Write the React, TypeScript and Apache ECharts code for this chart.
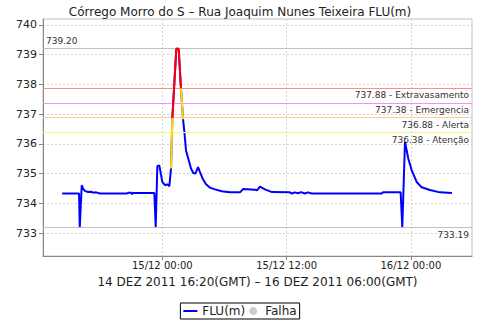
import React, { useEffect, useRef } from "react";
import * as echarts from "echarts";

// Hours relative to 15/12 00:00 (local time)
const times: number[] = [
  -9.67, -8.04, -7.97, -7.78, -7.63, -7.43, -7.17, -6.88, -6.67, -6.4, -6.01,
  -3.44, -3.26, -3.02, -2.92, -2.83, -0.77, -0.64, -0.48, -0.29, 0.0, 0.26,
  0.48, 0.68, 0.84, 0.97, 1.35, 1.58, 1.8, 2.0, 2.12, 2.29, 2.51, 2.77, 2.99,
  3.19, 3.45, 3.64, 3.9, 4.22, 4.6, 5.09, 5.73, 6.53, 7.5, 7.79, 8.95, 9.14,
  9.43, 9.91, 10.59, 12.32, 12.51, 12.8, 13.1, 13.39, 13.77, 14.06, 14.42,
  21.18, 21.31, 23.01, 23.17, 23.43, 23.75, 24.07, 24.56, 25.04, 25.84, 26.8,
  27.96,
];

const values: number[] = [
  734.33, 734.33, 733.19, 734.61, 734.48, 734.41, 734.38, 734.39, 734.36,
  734.37, 734.33, 734.33, 734.36, 734.36, 734.31, 734.35, 734.35, 733.19,
  735.25, 735.28, 734.72, 734.61, 734.64, 734.58, 735.17, 736.87, 739.2,
  739.2, 737.87, 736.83, 736.44, 735.78, 735.5, 735.17, 735.02, 735.0, 735.22,
  735.05, 734.83, 734.64, 734.53, 734.47, 734.41, 734.37, 734.37, 734.48,
  734.46, 734.44, 734.56, 734.47, 734.38, 734.37, 734.33, 734.37, 734.34,
  734.38, 734.33, 734.37, 734.33, 734.33, 734.37, 734.37, 733.2, 736.07,
  735.5, 735.12, 734.72, 734.54, 734.45, 734.37, 734.35,
];

// Index ranges of segments drawn in alert colours
const yellowSegments: [number, number][] = [
  [24, 25],
  [28, 29],
];
const redSegments: [number, number][] = [[25, 28]];

const xTickHours: number[] = [0, 12, 24];
const xTickLabels: string[] = ["15/12 00:00", "15/12 12:00", "16/12 00:00"];
const yTicks: number[] = [733, 734, 735, 736, 737, 738, 739, 740];

const thresholdValues: number[] = [737.88, 737.38, 736.88, 736.38];
const thresholdNames: string[] = ["Extravasamento", "Emergencia", "Alerta", "Atenção"];
const thresholdColors: string[] = ["#ff8c8c", "#ff88ff", "#ffc890", "#fff080"];
const maxValue = 739.2;
const minValue = 733.19;

const titleText = "Córrego Morro do S – Rua Joaquim Nunes Teixeira FLU(m)";
const xAxisName = "14 DEZ 2011 16:20(GMT) – 16 DEZ 2011 06:00(GMT)";

const FONT = "DejaVu Sans";

export default function App() {
  const ref = useRef<HTMLDivElement>(null);

  useEffect(() => {
    if (!ref.current) return;
    const chart = echarts.init(ref.current, undefined, { renderer: "svg" });

    const mainData = times.map((t, i) => [t, values[i]]);
    const segSeries = (segs: [number, number][], color: string, prefix: string) =>
      segs.map(([a, b], k) => ({
        type: "line",
        name: prefix + k,
        data: mainData.slice(a, b + 1),
        symbol: "none",
        lineStyle: { color, width: 2 },
        z: 5,
        silent: true,
      }));

    const markData: any[] = [
      {
        yAxis: maxValue,
        lineStyle: { color: "#c0c0c0" },
        label: { formatter: maxValue.toFixed(2), position: "insideStartTop" },
      },
      ...thresholdValues.map((v, i) => ({
        yAxis: v,
        lineStyle: { color: thresholdColors[i] },
        label: {
          formatter: v.toFixed(2) + " - " + thresholdNames[i],
          position: "insideEndBottom",
        },
      })),
      {
        yAxis: minValue,
        lineStyle: { color: "#c0c0c0" },
        label: { formatter: minValue.toFixed(2), position: "insideEndBottom" },
      },
    ];

    const option: any = {
      animation: false,
      backgroundColor: "#ffffff",
      textStyle: { fontFamily: FONT },
      title: {
        text: titleText,
        left: "center",
        top: 1,
        textStyle: { fontFamily: FONT, fontSize: 12, fontWeight: "normal", color: "#222" },
      },
      grid: {
        left: 43,
        top: 19,
        right: 8,
        bottom: 64,
        show: true,
        borderColor: "#c0c0c0",
        borderWidth: 1,
        backgroundColor: "#ffffff",
      },
      xAxis: {
        type: "value",
        min: -11.52,
        max: 29.9,
        name: xAxisName,
        nameLocation: "middle",
        nameGap: 20,
        nameTextStyle: { fontFamily: FONT, fontSize: 12, color: "#222" },
        axisLine: { show: true, onZero: false, lineStyle: { color: "#888" } },
        axisTick: { show: true, customValues: xTickHours, length: 4, lineStyle: { color: "#888" } },
        axisLabel: {
          customValues: xTickHours,
          formatter: (v: number) => xTickLabels[xTickHours.indexOf(v)] ?? "",
          fontFamily: FONT,
          fontSize: 10,
          color: "#222",
          margin: 4,
        },
        splitLine: { show: true, lineStyle: { type: [2, 2], color: "#d4d4d4" } },
      },
      yAxis: {
        type: "value",
        min: 732.23,
        max: 740.2,
        axisLine: { show: true, onZero: false, lineStyle: { color: "#888" } },
        axisTick: { show: true, customValues: yTicks, length: 4, lineStyle: { color: "#888" } },
        axisLabel: {
          customValues: yTicks,
          fontFamily: FONT,
          fontSize: 11,
          color: "#222",
          margin: 6,
        },
        splitLine: { show: true, lineStyle: { type: [2, 2], color: "#d4d4d4" } },
      },
      legend: {
        data: [
          { name: "FLU(m)", icon: "path://M0,0 L14,0 L14,2 L0,2 Z" },
          { name: "Falha", icon: "circle" },
        ],
        bottom: 1,
        left: "center",
        borderColor: "#000",
        borderWidth: 1,
        padding: [2, 3],
        itemGap: 4,
        itemWidth: 14,
        itemHeight: 8,
        selectedMode: false,
        textStyle: { fontFamily: FONT, fontSize: 12, color: "#222" },
      },
      series: [
        {
          type: "line",
          name: "FLU(m)",
          data: mainData,
          symbol: "none",
          lineStyle: { color: "#0000ff", width: 2 },
          itemStyle: { color: "#0000ff" },
          z: 4,
          markLine: {
            silent: true,
            symbol: ["none", "none"],
            animation: false,
            lineStyle: { type: "solid", width: 1 },
            label: {
              fontFamily: FONT,
              fontSize: 9,
              color: "#333",
              distance: 3,
            },
            data: markData,
          },
        },
        ...segSeries(yellowSegments, "#ffdd00", "yellow"),
        ...segSeries(redSegments, "#ff0000", "red"),
        {
          type: "scatter",
          name: "Falha",
          data: [],
          symbol: "circle",
          itemStyle: { color: "#c0c0c0" },
        },
      ],
    };

    chart.setOption(option);
    return () => chart.dispose();
  }, []);

  return <div ref={ref} style={{ width: 480, height: 320, position: "absolute", left: 0, top: 0 }} />;
}
